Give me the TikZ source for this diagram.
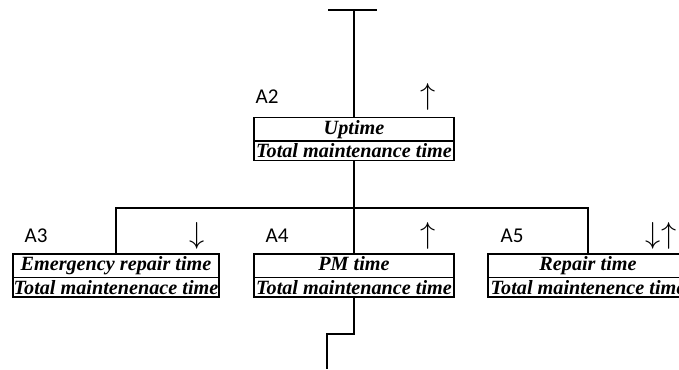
\documentclass[tikz,border=0pt]{standalone}
\usepackage{fontspec}
\setmainfont{Liberation Serif}
\newfontfamily\tagfont{Carlito}
\usetikzlibrary{shapes.multipart,positioning}
\tikzset{
  every node/.style={font=\small},
  ratio/.style={rectangle split, rectangle split parts=2, draw,
    rectangle split part align=center,
    line width=0.9pt, minimum width=4cm,
    inner xsep=0.5pt, inner ysep=1pt, text height=8pt, text depth=2.5pt,
    font=\bfseries\itshape\fontsize{11.5}{13}\selectfont},
  tag/.style={font=\tagfont\large},
  trend/.style={font=\LARGE},
  link/.style={line width=1.1pt},
}

\begin{document}
\begin{tikzpicture}[x=0.02cm,y=-0.02cm]
  \useasboundingbox (0,0) rectangle (679,369);

  % top level ratio
  \node[ratio] (a2) at (354,139) {Uptime\nodepart{two}Total maintenance time};
  \node[tag] (a2tag) at (267,97) {A2};
  \node[trend] (a2trend) at (428,97) {$\uparrow$};

  % lower level ratios
  \node[ratio] (a3) at (116,275.5) {Emergency repair time\nodepart{two}Total maintenenace time};
  \node[ratio] (a4) at (354,275.5) {PM time\nodepart{two}Total maintenance time};
  \node[ratio] (a5) at (588,275.5) {Repair time\nodepart{two}Total maintenence time};

  \node[tag] (a3tag) at (36,236) {A3};
  \node[tag] (a4tag) at (277,236) {A4};
  \node[tag] (a5tag) at (512,236) {A5};
  \node[trend] (a3trend) at (197,236) {$\downarrow$};
  \node[trend] (a4trend) at (428,236) {$\uparrow$};
  \node[trend] (a5trend) at (661,236) {$\downarrow\uparrow$};

  % connectors
  \coordinate (topl) at (328,10);
  \coordinate (topr) at (377,10);
  \coordinate (top) at (354,10);
  \coordinate (bus) at (354,208);
  \coordinate (exit) at (327,369);

  \draw[link] (topl) -- (topr);
  \draw[link] (top) -- (a2.north);
  \draw[link] (a2.south) -- (bus);
  \draw[link] (a3.north) |- (bus) -| (a5.north);
  \draw[link] (bus) -- (a4.north);
  \draw[link] (a4.south) -- ++(0,36) -| (exit);
\end{tikzpicture}
\end{document}
